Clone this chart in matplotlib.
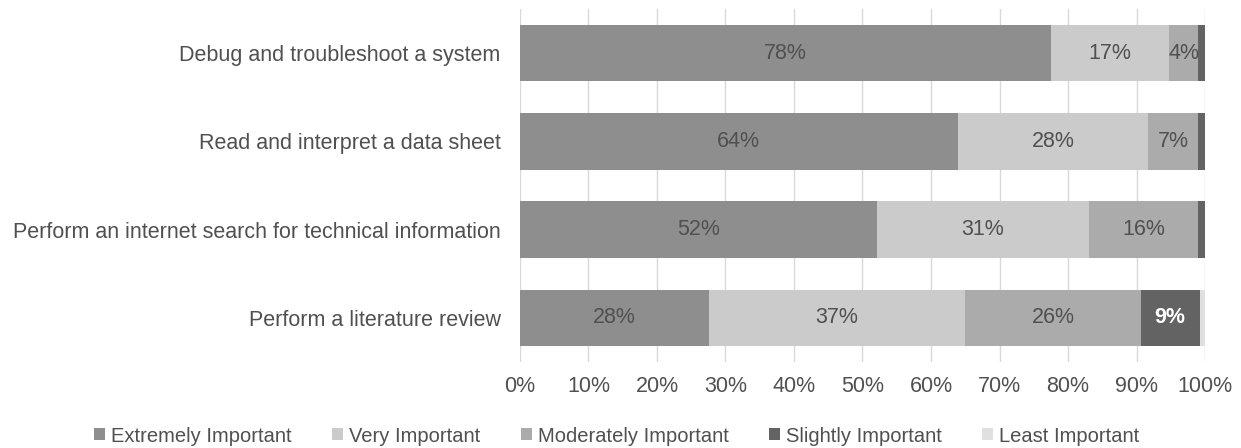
import matplotlib.pyplot as plt
import numpy as np

# categories top-to-bottom
tasks = ['Debug and troubleshoot a system',
         'Read and interpret a data sheet',
         'Perform an internet search for technical information',
         'Perform a literature review']
levels = ['Extremely Important', 'Very Important', 'Moderately Important',
          'Slightly Important', 'Least Important']

extremely = [77.5, 63.9, 52.1, 27.6]
very = [17.3, 27.8, 30.9, 37.4]
moderately = [4.2, 7.3, 16.0, 25.6]
slightly = [1.0, 1.0, 1.0, 8.6]
least = [0.0, 0.0, 0.0, 0.8]

colors = ['#8e8e8e', '#cbcbcb', '#ababab', '#636363', '#e0e0e0']
txt_col = '#505050'

plt.rcParams['font.family'] = ['Liberation Sans', 'DejaVu Sans']

fig = plt.figure(figsize=(12.41, 4.48), dpi=100)
ax = fig.add_axes([0.419, 0.192, 0.552, 0.788])

series = [extremely, very, moderately, slightly, least]
y = np.arange(len(tasks))
left = np.zeros(len(tasks))
for vals, lab, col in zip(series, levels, colors):
    vals = np.array(vals)
    ax.barh(y, vals, left=left, height=0.64, color=col, label=lab, zorder=2)
    for yi, (l, v) in enumerate(zip(left, vals)):
        if v >= 3:
            if col == '#636363':
                ax.text(l + v / 2, yi, '%d%%' % round(v), ha='center', va='center',
                        color='white', fontsize=15.5, fontweight='bold', zorder=3)
            else:
                ax.text(l + v / 2, yi, '%d%%' % round(v), ha='center', va='center',
                        color=txt_col, fontsize=15.5, zorder=3)
    left = left + vals

ax.set_xlim(0, 100)
ax.set_ylim(len(tasks) - 0.5, -0.5)
ax.set_yticks(y)
ax.set_yticklabels(tasks, fontsize=15.5, color=txt_col)
ax.set_xticks(np.arange(0, 101, 10))
ax.set_xticklabels(['%d%%' % t for t in range(0, 101, 10)], fontsize=15.5, color=txt_col)
ax.xaxis.grid(True, color='#d9d9d9', linewidth=1, zorder=0)
ax.tick_params(axis='x', length=0, pad=10)
ax.tick_params(axis='y', length=0, pad=14)
for s in ax.spines.values():
    s.set_visible(False)

leg = fig.legend(loc='lower center', bbox_to_anchor=(0.497, -0.035), ncol=5, frameon=False,
                 fontsize=14.5, handlelength=0.55, handleheight=0.55, handletextpad=0.3,
                 columnspacing=2.0)
for t in leg.get_texts():
    t.set_color(txt_col)

fig.savefig('out.png', dpi=100)
